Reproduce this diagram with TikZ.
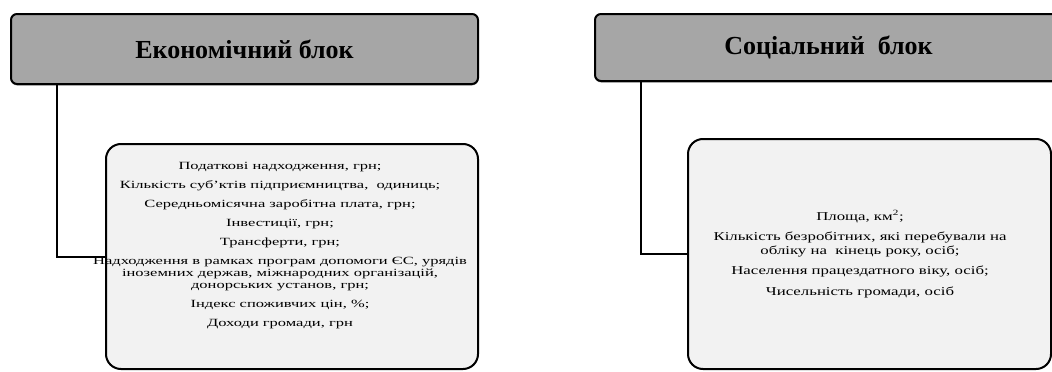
\documentclass[tikz,border=0pt]{standalone}
\usepackage{fontspec}
\setmainfont{Liberation Serif}
\usetikzlibrary{calc,shadows}
\definecolor{hdrgray}{HTML}{A6A6A6}
\definecolor{bodygray}{HTML}{F2F2F2}
\definecolor{shadowgray}{HTML}{8C8C8C}
\tikzset{
  hdrbox/.style={draw=black, line width=2pt, fill=hdrgray, rounded corners=6pt,
    inner sep=0pt, anchor=north west,
    drop shadow={shadow xshift=0pt, shadow yshift=-1.5pt, fill=shadowgray, opacity=0.8},
    font=\fontsize{26}{30}\selectfont\bfseries},
  bodybox/.style={draw=black, line width=2pt, fill=bodygray, rounded corners=15pt,
    inner sep=0pt, anchor=north west},
  bodytext/.style={align=center, inner sep=0pt, transform shape},
  conn/.style={draw=black, line width=2pt}
}
\begin{document}
\begin{tikzpicture}[x=1pt,y=-1pt]
\useasboundingbox (0,0) rectangle (1052,372);
\clip (0,0) rectangle (1052,372);
% headers
\node[hdrbox, minimum width=467pt, minimum height=70pt] (h1) at (10,13) {Економічний блок};
\node[hdrbox, minimum width=467pt, minimum height=67pt] (h2) at (594,13) {Соціальний\ \ блок};
% bodies
\node[bodybox, minimum width=372pt, minimum height=225pt] (b1) at (105,143) {};
\node[bodybox, minimum width=363pt, minimum height=230pt] (b2) at (687,138) {};
% connectors
\draw[conn] ($(h1.south west)+(47,0)$) |- (b1.west);
\draw[conn] ($(h2.south west)+(47,0)$) |- (b2.west);
% texts
\node[bodytext, xscale=1.5, font=\fontsize{11}{12}\selectfont] (t1) at (280,246) {%
Податкові надходження, грн;\\[7pt]
Кількість суб’ктів підприємництва,\ \ одиниць;\\[7pt]
Середньомісячна заробітна плата, грн;\\[7pt]
Інвестиції,\ грн;\\[7pt]
Трансферти, грн;\\[7pt]
Надходження в рамках програм\ допомоги ЄС, урядів\\
іноземних\ держав, міжнародних\ організацій,\\
донорських\ установ, грн;\\[7pt]
Індекс споживчих цін,\ \%;\\[7pt]
Доходи громади, грн};
\node[bodytext, xscale=1.4, font=\fontsize{12}{13.5}\selectfont] (t2) at (860,254) {%
Площа, км\textsuperscript{2};\\[7pt]
Кількість безробітних, які перебували\ на\\
обліку на\ \ кінець року, осіб;\\[7pt]
Населення працездатного віку, осіб;\\[7pt]
Чисельність громади,\ осіб};
\end{tikzpicture}
\end{document}
